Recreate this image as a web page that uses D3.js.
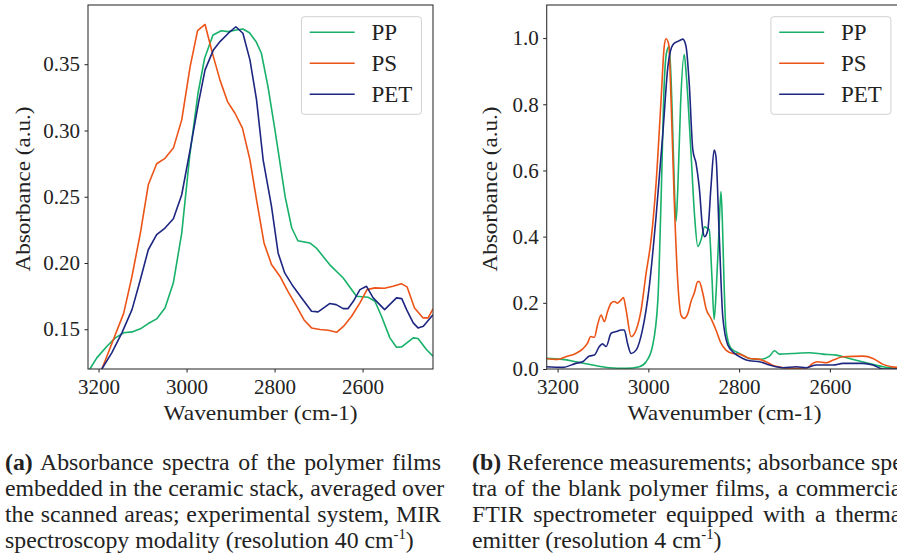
<!DOCTYPE html>
<html>
<head>
<meta charset="utf-8">
<script src="https://cdn.jsdelivr.net/npm/d3@7"></script>
<style>
body { margin: 0; background: #fff; }
text { font-family: "Liberation Serif", "Times New Roman", serif; fill: #222; }
</style>
</head>
<body>
<div id="chart"></div>
<script>
// (a) experimental system, 40 cm-1
var ppA_wn  = [3230,3219,3204,3181,3162,3143,3124,3105,3087,3068,3049,3030,3011,2993,2974,2959,2940,2921,2906,2887,2872,2857,2842,2830,2815,2799,2776,2761,2747,2720,2705,2675,2644,2614,2587,2572,2557,2538,2523,2511,2485,2474,2455,2440];
var ppA_abs = [0.112,0.1204,0.1284,0.1372,0.1435,0.1473,0.148,0.1503,0.1543,0.1578,0.1661,0.185,0.2226,0.2804,0.3281,0.3545,0.3721,0.3753,0.3746,0.3758,0.3766,0.3738,0.367,0.3583,0.3331,0.300,0.250,0.2264,0.2168,0.2151,0.2113,0.1988,0.1887,0.1749,0.1741,0.1711,0.1598,0.1435,0.1364,0.1367,0.1435,0.143,0.1347,0.1297];
var psA_wn  = [3200,3192,3143,3124,3105,3087,3068,3049,3030,3011,2992,2975,2958,2941,2924,2907,2890,2873,2856,2841,2824,2807,2788,2770,2750,2733,2716,2697,2678,2659,2643,2625,2606,2590,2572,2550,2531,2512,2499,2482,2463,2451,2440];
var psA_abs = [0.1136,0.1204,0.162,0.190,0.2226,0.259,0.2749,0.279,0.2867,0.308,0.348,0.3753,0.380,0.358,0.338,0.3218,0.313,0.3018,0.2779,0.2477,0.2151,0.1988,0.19,0.1787,0.1673,0.157,0.151,0.1498,0.1492,0.1477,0.1523,0.1598,0.1699,0.1799,0.1812,0.1809,0.1824,0.1844,0.1820,0.1661,0.1586,0.1586,0.1654];
var petA_wn  = [3200,3192,3170,3147,3124,3106,3087,3068,3049,3030,3011,2992,2973,2958,2939,2924,2905,2888,2872,2856,2841,2826,2807,2792,2777,2758,2739,2716,2701,2675,2660,2644,2633,2621,2606,2591,2576,2550,2523,2511,2500,2485,2474,2462,2440];
var petA_abs = [0.114,0.1204,0.1322,0.1473,0.1648,0.1862,0.210,0.2214,0.2264,0.2334,0.2515,0.2854,0.3206,0.3457,0.3608,0.3671,0.3734,0.3783,0.3734,0.3533,0.3231,0.2779,0.2427,0.2076,0.1925,0.1824,0.1737,0.1636,0.1631,0.1694,0.1686,0.1656,0.1656,0.1711,0.1799,0.1824,0.1737,0.1648,0.1737,0.1731,0.1648,0.1548,0.151,0.1523,0.161];

// (b) FTIR reference, 4 cm-1
var ppB_wn  = [3226,3189,3160,3123,3086,3049,3020,3005,2991,2979,2972,2965,2960,2954,2948,2942,2939,2935,2929,2921,2916,2906,2898,2891,2884,2876,2870,2866,2860,2855,2850,2845,2840,2837,2833,2829,2818,2799,2777,2755,2733,2722,2711,2682,2645,2616,2586,2557,2520,2483,2454,2440];
var ppB_abs = [0.032,0.029,0.022,0.012,0.004,0.002,0.007,0.022,0.068,0.209,0.511,0.864,0.955,0.975,0.80,0.52,0.446,0.55,0.80,0.950,0.88,0.652,0.46,0.370,0.39,0.430,0.425,0.422,0.28,0.150,0.25,0.40,0.536,0.45,0.25,0.12,0.0625,0.047,0.032,0.029,0.039,0.055,0.045,0.047,0.049,0.045,0.042,0.032,0.019,0.007,0.002,0.0];
var psB_wn  = [3226,3200,3182,3160,3145,3134,3127,3119,3112,3104,3097,3090,3082,3075,3068,3060,3055,3049,3038,3027,3016,3005,2994,2983,2972,2965,2961,2955,2950,2943,2935,2928,2921,2913,2906,2899,2891,2888,2880,2873,2862,2851,2840,2829,2814,2799,2777,2755,2741,2722,2704,2682,2649,2638,2627,2608,2593,2571,2527,2505,2483,2465,2440];
var psB_abs = [0.032,0.029,0.037,0.047,0.060,0.078,0.098,0.096,0.133,0.163,0.143,0.173,0.199,0.204,0.199,0.209,0.216,0.178,0.098,0.118,0.178,0.289,0.390,0.561,0.813,0.975,0.998,0.980,0.813,0.511,0.259,0.163,0.153,0.168,0.204,0.229,0.264,0.264,0.229,0.183,0.153,0.118,0.078,0.057,0.047,0.045,0.032,0.029,0.022,0.009,0.004,0.002,0.004,0.017,0.022,0.019,0.027,0.037,0.039,0.032,0.014,0.007,0.004];
var petB_wn  = [3226,3189,3160,3145,3130,3119,3108,3101,3093,3082,3071,3060,3053,3046,3038,3027,3013,2998,2983,2968,2957,2946,2935,2928,2924,2917,2910,2902,2895,2888,2880,2876,2869,2862,2855,2851,2844,2836,2825,2810,2792,2777,2755,2733,2704,2674,2652,2630,2593,2571,2527,2505,2483,2440];
var petB_abs = [0.007,0.005,0.017,0.022,0.039,0.042,0.068,0.076,0.068,0.108,0.113,0.118,0.118,0.078,0.047,0.057,0.118,0.249,0.461,0.713,0.914,0.980,0.990,0.995,0.997,0.975,0.864,0.662,0.622,0.551,0.420,0.400,0.420,0.551,0.662,0.642,0.410,0.158,0.073,0.047,0.032,0.025,0.022,0.012,0.004,0.007,0.004,0.012,0.012,0.017,0.017,0.012,0.0,0.0];

var seriesNames = ["PP", "PS", "PET"];
var seriesColors = ["#17b169", "#ec5417", "#1d2680"];
var xTicks = [3200, 3000, 2800, 2600];
var yTicksA = [0.15, 0.20, 0.25, 0.30, 0.35];
var yTicksB = [0.0, 0.2, 0.4, 0.6, 0.8, 1.0];

var captionA = ["Absorbance spectra of the polymer films",
                "embedded in the ceramic stack, averaged over",
                "the scanned areas; experimental system, MIR",
                "spectroscopy modality (resolution 40 cm"];
var captionB = ["Reference measurements; absorbance spec-",
                "tra of the blank polymer films, a commercial",
                "FTIR spectrometer equipped with a thermal",
                "emitter (resolution 4 cm"];

var W = 897, H = 556;
var plotTop = 5, plotBottom = 369;

var svg = d3.select("#chart").append("svg")
    .attr("width", W)
    .attr("height", H);
svg.append("rect").attr("width", W).attr("height", H).attr("fill", "#fff");

function drawPanel(p, idx) {
  var x = d3.scaleLinear().domain([3224, 2440]).range([p.left, p.right]);
  var y = d3.scaleLinear().domain(p.yDomain).range([plotBottom, plotTop]);

  var g = svg.append("g");

  g.append("clipPath").attr("id", "clip" + idx)
    .append("rect")
      .attr("x", p.left).attr("y", plotTop)
      .attr("width", p.right - p.left).attr("height", plotBottom - plotTop);

  var line = d3.line()
      .x(function(d) { return x(d[0]); })
      .y(function(d) { return y(d[1]); })
      .curve(p.curve);

  g.append("g").attr("clip-path", "url(#clip" + idx + ")")
    .selectAll("path")
    .data(p.series)
    .enter()
    .append("path")
      .attr("d", function(s) { return line(d3.zip(s[0], s[1])); })
      .attr("fill", "none")
      .attr("stroke", function(s, i) { return seriesColors[i]; })
      .attr("stroke-width", 1.6)
      .attr("stroke-linejoin", "round");

  var xAxis = g.append("g")
      .attr("transform", "translate(0," + plotBottom + ")")
      .call(d3.axisBottom(x).tickValues(xTicks).tickSize(3.5).tickPadding(6.5).tickFormat(d3.format("d")));
  var yAxis = g.append("g")
      .attr("transform", "translate(" + p.left + ",0)")
      .call(d3.axisLeft(y).tickValues(p.yTicks).tickSize(3.5).tickPadding(4.5).tickFormat(d3.format(p.fmt)));

  [xAxis, yAxis].forEach(function(a) {
    a.attr("font-size", 21).attr("font-family", "Liberation Serif, serif");
    a.select(".domain").remove();
    a.selectAll(".tick line").attr("stroke", "#222").attr("stroke-width", 1);
    a.selectAll(".tick text").attr("fill", "#222");
  });

  g.append("rect")
    .attr("x", p.left).attr("y", plotTop)
    .attr("width", p.right - p.left).attr("height", plotBottom - plotTop)
    .attr("fill", "none")
    .attr("stroke", "#333")
    .attr("stroke-width", 1.1);

  g.append("text")
    .attr("x", (p.left + p.right) / 2)
    .attr("y", 420)
    .attr("text-anchor", "middle")
    .attr("font-size", 21.5)
    .attr("textLength", 194)
    .attr("lengthAdjust", "spacingAndGlyphs")
    .text("Wavenumber (cm-1)");

  g.append("text")
    .attr("transform", "translate(" + p.yTitleX + ",189) rotate(-90)")
    .attr("text-anchor", "middle")
    .attr("font-size", 21.5)
    .attr("textLength", 165)
    .attr("lengthAdjust", "spacingAndGlyphs")
    .text("Absorbance (a.u.)");

  var lx = p.right - 11.6 - 120, ly = 16.7;
  var legend = g.append("g").attr("transform", "translate(" + lx + "," + ly + ")");
  legend.append("rect")
    .attr("width", 120).attr("height", 97.6)
    .attr("rx", 3)
    .attr("fill", "#fff").attr("fill-opacity", 0.8)
    .attr("stroke", "#d0d0d0").attr("stroke-width", 1);
  var item = legend.selectAll(".legend")
    .data(seriesNames)
    .enter()
    .append("g")
      .attr("class", "legend")
      .attr("transform", function(d, i) { return "translate(0," + (15.6 + i * 31) + ")"; });
  item.append("line")
    .attr("x1", 8.3).attr("x2", 53.3)
    .attr("stroke", function(d, i) { return seriesColors[i]; })
    .attr("stroke-width", 1.6);
  item.append("text")
    .attr("x", 70)
    .attr("dy", "0.35em")
    .attr("font-size", 23)
    .text(function(d) { return d; });
}

drawPanel({left: 88, right: 433, yDomain: [0.12, 0.3947], yTicks: yTicksA, fmt: ".2f",
           curve: d3.curveLinear, yTitleX: 30,
           series: [[ppA_wn, ppA_abs], [psA_wn, psA_abs], [petA_wn, petA_abs]]}, 0);
drawPanel({left: 546.7, right: 902.5, yDomain: [0, 1.1], yTicks: yTicksB, fmt: ".1f",
           curve: d3.curveMonotoneX, yTitleX: 497,
           series: [[ppB_wn, ppB_abs], [psB_wn, psB_abs], [petB_wn, petB_abs]]}, 1);

// captions: justified lines, last line left-aligned
var capSize = 23.5, capWidth = 436, baselines = [470, 496, 522, 548];

function caption(x0, label, lines) {
  var g = svg.append("g");
  return lines.map(function(s, i) {
    var t = g.append("text")
      .attr("x", x0).attr("y", baselines[i])
      .attr("font-size", capSize);
    if (i === 0) {
      t.append("tspan").attr("font-weight", "bold").text(label);
      t.append("tspan").text(" " + s);
    } else {
      t.append("tspan").text(s);
    }
    if (i === lines.length - 1) {
      t.append("tspan").attr("font-size", capSize * 0.62).attr("dy", -9).text("-1");
      t.append("tspan").attr("dy", 9).text(")");
    }
    return t;
  });
}

var capA = caption(5, "(a)", captionA);
var capB = caption(472, "(b)", captionB);

// horizontal squeeze taken from the unjustified last line of (a), which ends near x=414
var sx = 409 / capA[3].node().getComputedTextLength();
[capA, capB].forEach(function(texts) {
  texts.forEach(function(t, i) {
    var x0 = +t.attr("x");
    t.attr("transform", "translate(" + x0 + ",0) scale(" + sx + ",1) translate(" + (-x0) + ",0)");
    if (i < 3) {
      var natural = t.node().getComputedTextLength() * sx;
      var words = t.text().split(" ").length - 1;
      var ws = Math.max(0, (capWidth - natural) / words);
      t.attr("word-spacing", ws / sx);
    }
  });
});
</script>
</body>
</html>
